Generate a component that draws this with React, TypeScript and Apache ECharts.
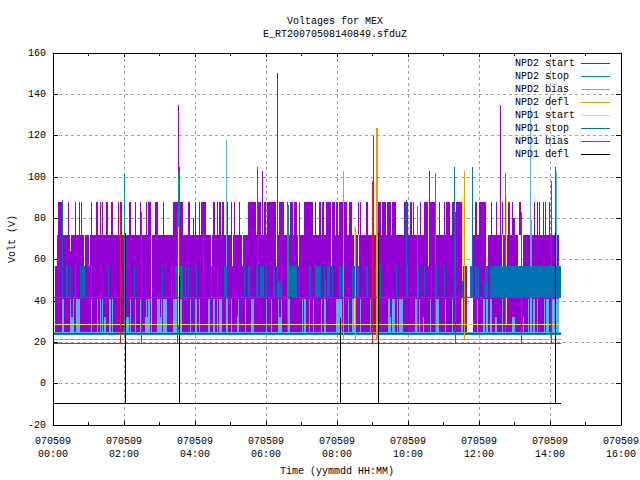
import React, { useEffect, useRef } from "react";
import * as echarts from "echarts";

const FONT = "Liberation Mono";
const titleLines = ["Voltages for MEX", "E_RT20070508140849.sfduZ"];
const xTickDay = "070509";
const seriesNames = ["NPD2 start", "NPD2 stop", "NPD2 bias", "NPD2 defl", "NPD1 start", "NPD1 stop", "NPD1 bias", "NPD1 defl"];
const seriesColors = ["#9400D3", "#009E73", "#56B4E9", "#E69F00", "#F0E442", "#0072B2", "#E51E10", "#000000"];

// time range (hours) of the continuous traces
const T_START = 0.04;
const T_END = 14.3;

// baseline voltage of each trace
const baselines = [24.7, 24, 25, 21.5, 28.7, 41.7, 19.5, -9.4];

// NPD2 start: solid zone [from, to, low, high]
const purpleBody = [
  [0.07, 11.65, 24.7, 57], [11.82, 14.24, 24.7, 57],
  [0.10, 0.49, 57, 72], [0.49, 0.52, 57, 64], [0.52, 0.86, 57, 72], [0.89, 1.00, 57, 72], [1.03, 3.37, 57, 72],
  [3.39, 4.46, 57, 72], [4.49, 5.03, 57, 72], [5.06, 5.31, 57, 72], [5.34, 6.27, 57, 72], [6.30, 6.89, 57, 72],
  [6.92, 7.82, 57, 72], [7.85, 8.58, 57, 72], [8.61, 10.55, 57, 72], [10.58, 11.51, 57, 72], [11.82, 12.21, 57, 72],
  [12.24, 12.66, 57, 72], [12.69, 13.11, 57, 72], [13.23, 14.24, 57, 72],
];
// NPD2 start: bursts reaching 88 V
const purpleBursts = [
  [0.13, 0.24], [0.41, 0.44], [0.63, 0.66], [0.72, 0.75], [0.80, 0.83], [1.06, 1.11], [1.20, 1.28], [1.31, 1.34],
  [1.39, 1.42], [1.48, 1.54], [1.62, 1.68], [1.82, 1.85], [1.90, 1.93], [1.99, 2.01], [2.15, 2.21], [2.30, 2.32],
  [2.44, 2.46], [2.61, 2.63], [2.69, 2.77], [2.86, 2.97], [3.11, 3.14], [3.37, 3.65], [3.79, 3.85], [4.01, 4.04],
  [4.10, 4.13], [4.18, 4.32], [4.52, 4.55], [4.61, 4.63], [4.69, 4.72], [4.77, 4.83], [4.89, 4.92], [5.00, 5.03],
  [5.11, 5.14], [5.25, 5.28], [5.48, 5.73], [5.76, 5.87], [5.93, 6.01], [6.04, 6.27], [6.30, 6.35], [6.38, 6.52],
  [6.58, 6.63], [6.69, 6.75], [6.80, 6.86], [6.92, 6.97], [7.06, 7.31], [7.39, 7.42], [7.48, 7.56], [7.59, 7.62],
  [7.68, 7.70], [7.73, 7.82], [7.85, 7.93], [7.96, 8.04], [8.07, 8.13], [8.15, 8.27], [8.35, 8.41], [8.58, 8.63],
  [8.66, 8.69], [8.83, 8.86], [9.00, 9.03], [9.14, 9.25], [9.28, 9.39], [9.42, 9.51], [9.54, 9.65], [9.90, 9.99],
  [10.07, 10.10], [10.15, 10.18], [10.35, 10.38], [10.46, 10.55], [10.58, 10.75], [10.86, 10.89], [11.00, 11.03],
  [11.06, 11.08], [11.11, 11.17], [11.25, 11.31], [11.34, 11.51], [11.79, 11.82], [11.90, 11.93], [11.99, 12.01],
  [12.04, 12.07], [12.07, 12.21], [12.35, 12.38], [12.49, 12.52], [12.58, 12.61], [12.66, 12.69], [12.83, 12.86],
  [12.92, 12.94], [13.14, 13.17], [13.54, 13.56], [13.62, 13.65], [13.70, 13.73], [13.79, 13.82], [13.87, 13.90],
  [13.96, 13.99],
];
const purpleShortBursts = [[3.93, 3.96], [12.94, 13.0]];

// NPD1 stop: bursts reaching 57 V, lower ones 50 V, and one continuous zone
const blueBursts = [
  [0.38, 0.41], [0.49, 0.52], [0.63, 0.66], [0.77, 0.80], [0.83, 0.89], [1.06, 1.09], [1.56, 1.59], [1.90, 1.93],
  [2.27, 2.30], [3.06, 3.09], [3.31, 3.34], [3.45, 3.48], [3.54, 3.65], [3.73, 3.76], [3.79, 3.82], [4.04, 4.07],
  [4.44, 4.49], [4.61, 4.66], [4.83, 4.89], [5.39, 5.42], [5.48, 5.54], [5.73, 5.76], [5.82, 5.93], [6.01, 6.04],
  [6.21, 6.24], [6.30, 6.35], [6.41, 6.46], [6.66, 6.86], [6.92, 6.97], [7.20, 7.23], [7.25, 7.28], [7.39, 7.54],
  [7.62, 7.65], [7.73, 7.79], [7.87, 7.90], [8.07, 8.10], [8.13, 8.18], [8.41, 8.44], [8.49, 8.52], [8.55, 8.63],
  [8.83, 8.86], [9.06, 9.09], [9.20, 9.23], [9.65, 9.68], [9.96, 9.99], [10.27, 10.30], [10.44, 10.47],
  [10.66, 10.69], [10.75, 10.83], [11.00, 11.03], [11.76, 11.82], [11.90, 11.93], [11.96, 11.99], [12.18, 12.24],
  [12.30, 14.30],
];
const blueLowBursts = [[1.54, 1.59], [3.37, 3.40], [6.35, 6.41], [7.62, 7.68], [11.51, 11.56], [12.13, 12.21]];

// NPD2 bias: bursts reaching 41 V, lower ones 32.5 V
const lightBursts = [
  [0.24, 0.30], [0.49, 0.52], [0.55, 0.58], [0.66, 0.77], [1.06, 1.09], [1.25, 1.28], [1.31, 1.34], [1.37, 1.42],
  [1.59, 1.62], [1.65, 1.68], [2.18, 2.21], [2.30, 2.33], [2.44, 2.47], [2.61, 2.64], [2.69, 2.72], [2.75, 2.78],
  [2.92, 2.95], [2.97, 3.00], [3.03, 3.06], [3.11, 3.20], [3.37, 3.48], [3.54, 3.62], [3.87, 3.90], [3.99, 4.02],
  [4.04, 4.07], [4.10, 4.13], [4.38, 4.41], [4.52, 4.55], [4.61, 4.64], [4.69, 4.75], [4.86, 4.92], [5.00, 5.03],
  [5.20, 5.23], [5.42, 5.45], [5.59, 5.65], [6.01, 6.04], [6.15, 6.18], [6.35, 6.38], [6.41, 6.44], [6.63, 6.69],
  [7.00, 7.03], [7.08, 7.14], [7.20, 7.25], [7.31, 7.34], [7.56, 7.59], [7.62, 7.68], [7.96, 7.99], [8.01, 8.13],
  [8.30, 8.33], [8.41, 8.52], [8.66, 8.69], [8.92, 8.95], [9.45, 9.48], [9.56, 9.62], [9.68, 9.71], [9.76, 9.85],
  [10.21, 10.24], [10.30, 10.33], [10.63, 10.66], [10.80, 10.86], [11.03, 11.06], [11.23, 11.26], [11.48, 11.54],
  [11.93, 11.96], [12.10, 12.13], [12.15, 12.18], [12.21, 12.24], [12.30, 12.38], [12.66, 12.69], [13.37, 13.40],
  [13.45, 13.48], [13.51, 13.59], [13.62, 13.65], [13.82, 13.87], [13.90, 13.96], [14.07, 14.24],
];
const lightLowBursts = [
  [0.49, 0.58], [1.45, 1.50], [2.07, 2.13], [2.58, 2.72], [2.92, 3.06], [3.99, 4.04], [5.17, 5.23], [6.35, 6.41],
  [8.18, 8.21], [9.45, 9.51], [10.41, 10.46], [12.44, 12.52], [12.94, 13.00], [13.23, 13.26],
];

// single peaks [hour, peak volts], per trace
const purplePeaks = [[3.52, 135], [5.89, 103], [6.30, 150.5], [10.59, 103], [12.59, 135]];
const greenPeaks = [[2.01, 102], [3.52, 102], [6.58, 86.3], [6.61, 86.3], [10.24, 86], [10.77, 102], [12.73, 102]];
const lightPeaks = [[4.86, 118], [13.43, 133.8], [13.46, 79], [14.18, 102.7]];
const orangePeaks = [[8.16, 103], [8.50, 76], [9.09, 123.5], [9.12, 123.5], [11.57, 103]];
const yellowPeaks = [[2.75, 76], [3.51, 76], [8.47, 76], [11.52, 91], [12.75, 91]];
const bluePeaks = [[0.25, 88.7], [3.54, 104.7], [4.23, 73], [5.74, 104.7], [9.01, 120], [9.94, 88.7], [11.29, 104.7], [11.80, 104.7], [14.14, 104.7]];
const redPeaks = [[1.89, 83], [2.47, 83], [3.48, 83], [8.98, 98], [11.32, 83], [13.18, 83], [14.04, 98]];
const blackPeaks = [[2.04, 72.8], [3.54, 52], [8.08, 31.6], [9.15, 72.7], [14.14, 72.7]];

const bursts = (runs: number[][], low: number, high: number) => runs.map(([a, b]) => [a, b, low, high]);
const peaks = (list: number[][], base: number) => list.map(([t, v]) => [t, t, base, v]);
const trace = (i: number) => [T_START, T_END, baselines[i], baselines[i]];

const channelData: number[][][] = [
  [...purpleBody, ...bursts(purpleBursts, 72, 88), ...bursts(purpleShortBursts, 72, 80), ...peaks(purplePeaks, 72), trace(0)],
  [trace(1), ...peaks(greenPeaks, baselines[1])],
  [...bursts(lightBursts, 25, 41), ...bursts(lightLowBursts, 25, 32.5), ...peaks(lightPeaks, 25), trace(2)],
  [trace(3), ...peaks(orangePeaks, baselines[3])],
  [trace(4), ...peaks(yellowPeaks, baselines[4])],
  [...bursts(blueBursts, 41.7, 57), ...bursts(blueLowBursts, 41.7, 49.6), ...peaks(bluePeaks, 41.7), trace(5)],
  [trace(6), ...peaks(redPeaks, baselines[6])],
  [trace(7), ...peaks(blackPeaks, baselines[7])],
];

const renderRun = (params: any, api: any) => {
  const p0 = api.coord([api.value(0), api.value(3)]);
  const p1 = api.coord([api.value(1), api.value(2)]);
  return {
    type: "rect",
    shape: {
      x: Math.round(p0[0]),
      y: Math.round(p0[1]),
      width: Math.max(1, Math.round(p1[0]) - Math.round(p0[0])),
      height: Math.max(1, Math.round(p1[1]) - Math.round(p0[1])),
    },
    style: { fill: seriesColors[params.seriesIndex] },
  };
};

export default function App() {
  const ref = useRef<HTMLDivElement>(null);
  useEffect(() => {
    document.body.style.margin = "0";
    const chart = echarts.init(ref.current!, undefined, { renderer: "svg" });
    const text = { fontFamily: FONT, fontSize: 10, color: "#000" };
    const line = { lineStyle: { color: "#000", width: 1 } };
    const grid = { show: true, lineStyle: { color: "#a0a0a0", width: 1, type: [3, 3] as number[] } };
    const xBase = { type: "value" as const, min: 0, max: 16, interval: 2, axisLine: { show: true, onZero: false, ...line } };
    const yBase = { type: "value" as const, min: -20, max: 160, interval: 20, axisLine: { show: true, onZero: false, ...line } };
    chart.setOption({
      animation: false,
      title: {
        text: titleLines.join("\n"),
        left: 330,
        top: 10,
        textAlign: "center",
        textStyle: { ...text, fontWeight: "normal", lineHeight: 13 },
      },
      legend: {
        left: 515,
        top: 58.5,
        orient: "vertical",
        align: "right",
        selectedMode: false,
        itemWidth: 29,
        itemHeight: 1,
        itemGap: 3,
        padding: 0,
        formatter: (n: string) => `{a|${n}}`,
        textStyle: { ...text, rich: { a: { ...text, width: 61, align: "left", height: 10, lineHeight: 10 } } },
        data: seriesNames.map((name, i) => ({
          name,
          icon: "rect",
          itemStyle: { color: seriesColors[i], borderWidth: 0, opacity: 1 },
        })),
      },
      grid: { left: 53, right: 19, top: 53, bottom: 55, containLabel: false, outerBoundsMode: "none" },
      xAxis: [
        {
          ...xBase,
          position: "bottom",
          name: "Time (yymmdd HH:MM)",
          nameLocation: "middle",
          nameGap: 41,
          nameTextStyle: text,
          axisTick: { show: true, inside: true, length: 4, ...line },
          minorTick: { show: true, splitNumber: 2, length: 3, ...line },
          axisLabel: {
            ...text,
            lineHeight: 13,
            margin: 10,
            formatter: (v: number) => `${xTickDay}\n${String(v).padStart(2, "0")}:00`,
          },
          splitLine: grid,
        },
        {
          ...xBase,
          position: "top",
          axisTick: { show: true, inside: true, length: 4, ...line },
          minorTick: { show: true, splitNumber: 2, length: 3, ...line },
          axisLabel: { show: false },
          splitLine: { show: false },
        },
      ],
      yAxis: [
        {
          ...yBase,
          position: "left",
          name: "Volt (V)",
          nameLocation: "middle",
          nameGap: 36,
          nameTextStyle: text,
          axisTick: { show: true, inside: true, length: 5, ...line },
          axisLabel: { ...text, margin: 7 },
          splitLine: grid,
        },
        {
          ...yBase,
          position: "right",
          axisTick: { show: true, inside: true, length: 5, ...line },
          axisLabel: { show: false },
          splitLine: { show: false },
        },
      ],
      series: seriesNames.map((name, i) => ({
        name,
        type: "custom",
        xAxisIndex: 0,
        yAxisIndex: 0,
        renderItem: renderRun,
        itemStyle: { color: seriesColors[i] },
        encode: { x: [0, 1], y: [2, 3] },
        clip: true,
        data: channelData[i],
      })),
    });
    return () => chart.dispose();
  }, []);
  return <div ref={ref} style={{ position: "fixed", left: 0, top: 0, width: 640, height: 480, background: "#fff" }} />;
}
